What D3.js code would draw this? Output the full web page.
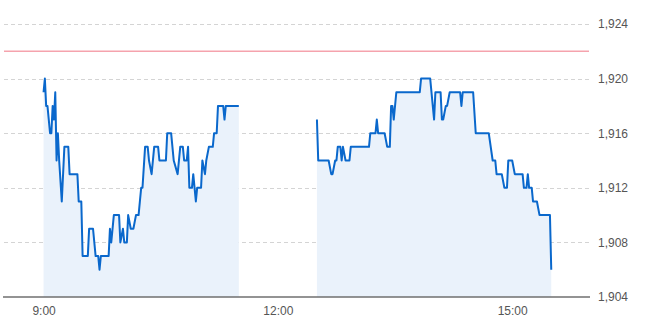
<!DOCTYPE html>
<html>
<head>
<meta charset="utf-8">
<script src="https://cdn.jsdelivr.net/npm/d3@7"></script>
<style>
  body { margin: 0; background: #fff; }
  #chart text { font-family: "Liberation Sans", Arial, sans-serif; font-size: 12px; fill: #555; }
</style>
</head>
<body>
<div id="chart"></div>
<script>
// morning session 9:00 - 11:30
var morningTimes = ["9:00","9:01","9:02","9:03","9:05","9:06","9:07","9:08","9:09","9:10","9:11","9:12","9:14","9:16","9:19","9:20","9:26","9:27","9:29","9:30","9:34","9:35","9:38","9:40","9:42","9:43","9:44","9:50","9:51","9:52","9:54","9:58","9:59","10:01","10:02","10:04","10:05","10:07","10:09","10:11","10:13","10:14","10:15","10:16","10:18","10:20","10:21","10:23","10:25","10:28","10:29","10:34","10:35","10:38","10:39","10:40","10:43","10:45","10:47","10:48","10:50","10:51","10:52","10:54","10:55","10:57","10:58","11:01","11:02","11:04","11:05","11:07","11:10","11:11","11:13","11:14","11:18","11:19","11:20","11:30"];
var morningPrices = [1919,1920,1918,1918,1916,1916,1918,1917,1919,1914,1916,1914,1911,1915,1915,1913,1913,1911,1911,1907,1907,1909,1909,1907,1907,1906,1907,1907,1909,1908,1910,1910,1908,1909,1908,1908,1910,1909,1909,1910,1910,1911,1912,1912,1915,1915,1914,1913,1915,1915,1914,1914,1916,1916,1915,1914,1913,1915,1915,1914,1914,1915,1912,1912,1913,1911,1912,1912,1914,1913,1914,1915,1915,1916,1916,1918,1918,1917,1918,1918];

// afternoon session 12:30 - 15:30
var afternoonTimes = ["12:30","12:31","12:39","12:41","12:42","12:44","12:45","12:46","12:48","12:49","12:50","12:52","12:55","12:56","13:10","13:11","13:15","13:16","13:17","13:22","13:24","13:26","13:27","13:28","13:29","13:31","13:49","13:50","13:57","14:00","14:01","14:05","14:06","14:07","14:09","14:10","14:12","14:20","14:21","14:22","14:30","14:32","14:42","14:45","14:47","14:48","14:52","14:54","14:56","14:57","15:00","15:02","15:08","15:09","15:11","15:12","15:13","15:15","15:16","15:19","15:21","15:29","15:30"];
var afternoonPrices = [1917,1914,1914,1913,1913,1914,1914,1915,1915,1914,1915,1914,1914,1915,1915,1916,1916,1917,1916,1916,1915,1915,1918,1918,1917,1919,1919,1920,1920,1917,1919,1919,1917,1917,1918,1918,1919,1919,1918,1919,1919,1916,1916,1914,1914,1913,1913,1912,1912,1914,1914,1913,1913,1912,1912,1913,1912,1912,1911,1911,1910,1910,1906];

var prevClose = 1922;
var yTicks = [1904, 1908, 1912, 1916, 1920, 1924];
var xTicks = ["9:00", "12:00", "15:00"];

var parseTime = d3.timeParse("%H:%M");

function toPoints(times, prices) {
    return times.map(function (t, i) { return { time: parseTime(t), price: prices[i] }; });
}
var sessions = [toPoints(morningTimes, morningPrices), toPoints(afternoonTimes, afternoonPrices)];

var width = 650, height = 327;
var svg = d3.select("#chart").append("svg")
    .attr("width", width)
    .attr("height", height);

// scales
var xScale = d3.scaleTime()
    .domain([parseTime("8:30"), parseTime("16:00")])
    .range([4.5, 590.3]);
var yScale = d3.scaleLinear()
    .domain([1904, 1924])
    .range([297, 24]);

// gridlines
svg.append("g")
    .selectAll("line")
    .data(yTicks.slice(1))
    .enter().append("line")
    .attr("x1", 4)
    .attr("x2", 589)
    .attr("y1", function (d) { return Math.round(yScale(d)) + 0.5; })
    .attr("y2", function (d) { return Math.round(yScale(d)) + 0.5; })
    .style("stroke", "#d4d4d4")
    .style("stroke-dasharray", "4,3");

// area under each session
var area = d3.area()
    .x(function (d) { return xScale(d.time); })
    .y0(yScale(1904))
    .y1(function (d) { return yScale(d.price); });

svg.append("g")
    .selectAll("path")
    .data(sessions)
    .enter().append("path")
    .attr("d", area)
    .style("fill", "#eaf2fb");

// previous close
svg.append("line")
    .attr("x1", 4)
    .attr("x2", 589)
    .attr("y1", yScale(prevClose))
    .attr("y2", yScale(prevClose))
    .style("stroke", "#f5a3ad")
    .style("stroke-width", 1.5);

// price line
var line = d3.line()
    .x(function (d) { return xScale(d.time); })
    .y(function (d) { return yScale(d.price); });

svg.append("g")
    .selectAll("path")
    .data(sessions)
    .enter().append("path")
    .attr("d", line)
    .style("fill", "none")
    .style("stroke", "#0a68cc")
    .style("stroke-width", 2)
    .style("stroke-linejoin", "round");

// x axis
var xAxis = svg.append("g")
    .attr("transform", "translate(0," + yScale(1904) + ")")
    .call(d3.axisBottom(xScale)
        .tickValues(xTicks.map(parseTime))
        .tickFormat(d3.timeFormat("%-H:%M"))
        .tickSize(0)
        .tickPadding(9));
xAxis.select(".domain").remove();
xAxis.append("line")
    .attr("x1", 3)
    .attr("x2", 590)
    .style("stroke", "#6f6f6f")
    .style("stroke-width", 1.5);
xAxis.selectAll("text").style("font-size", "12px");

// y axis labels on the right
var yAxis = svg.append("g")
    .attr("transform", "translate(598,0)")
    .call(d3.axisRight(yScale)
        .tickValues(yTicks)
        .tickFormat(d3.format(","))
        .tickSize(0)
        .tickPadding(0));
yAxis.select(".domain").remove();
yAxis.selectAll("text").style("font-size", "12px");
</script>
</body>
</html>
